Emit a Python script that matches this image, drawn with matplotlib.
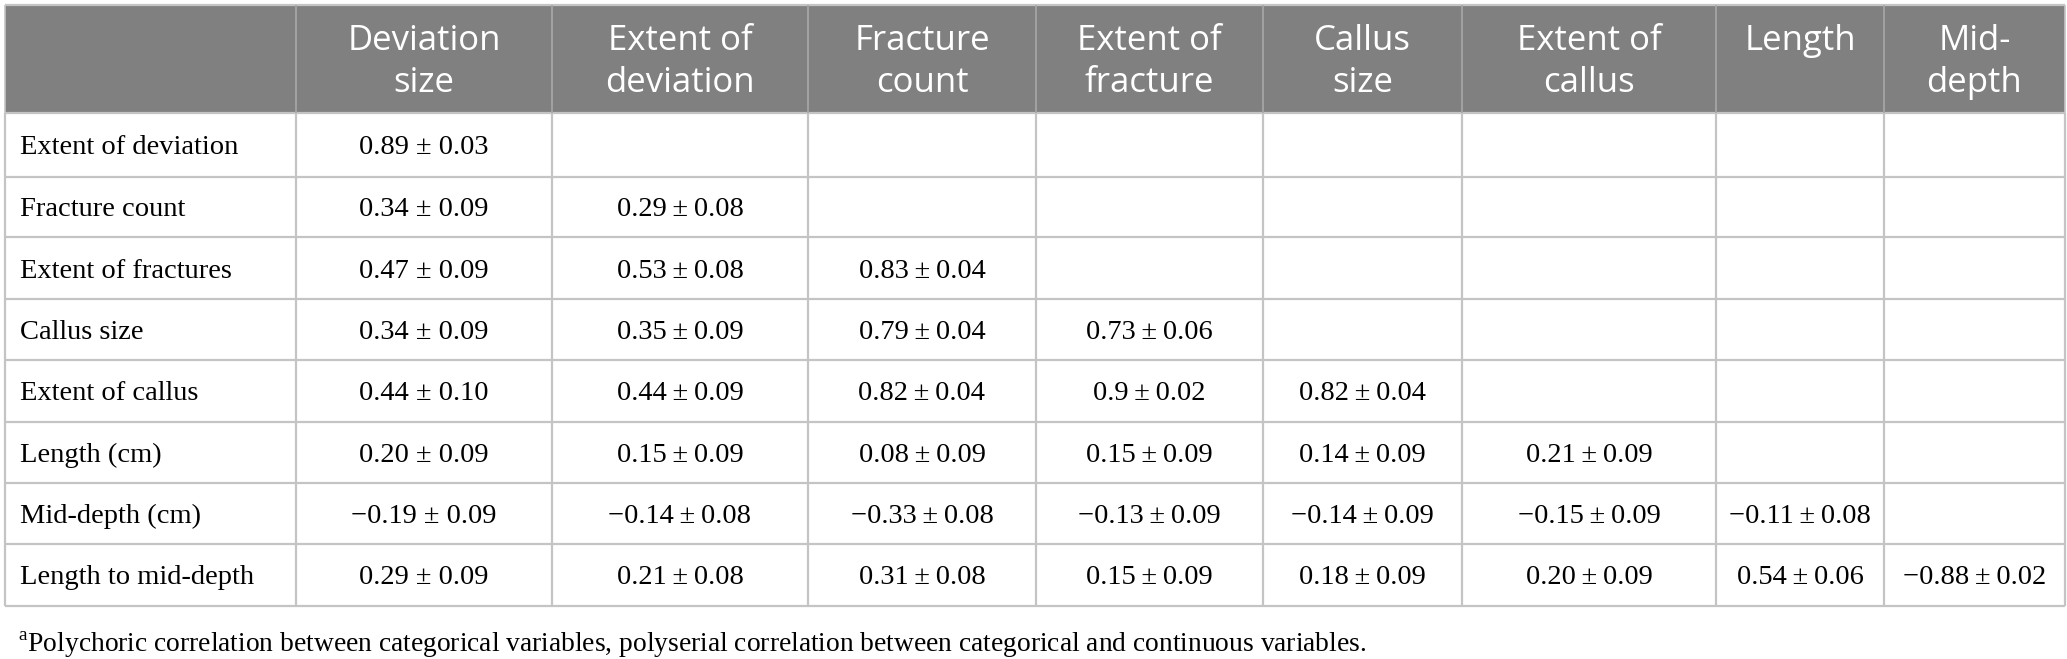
import matplotlib
matplotlib.use("Agg")
import matplotlib.pyplot as plt
from matplotlib.patches import Rectangle

plt.rcParams['mathtext.fontset'] = 'custom'
plt.rcParams['mathtext.rm'] = 'Liberation Serif'

# Données du tableau
col_headers = ["Deviation\nsize", "Extent of\ndeviation", "Fracture\ncount", "Extent of\nfracture",
               "Callus\nsize", "Extent of\ncallus", "Length", "Mid-\ndepth"]
row_labels = ["Extent of deviation", "Fracture count", "Extent of fractures", "Callus size",
              "Extent of callus", "Length (cm)", "Mid-depth (cm)", "Length to mid-depth"]
estimates = [
    ["0.89"],
    ["0.34", "0.29"],
    ["0.47", "0.53", "0.83"],
    ["0.34", "0.35", "0.79", "0.73"],
    ["0.44", "0.44", "0.82", "0.9", "0.82"],
    ["0.20", "0.15", "0.08", "0.15", "0.14", "0.21"],
    ["−0.19", "−0.14", "−0.33", "−0.13", "−0.14", "−0.15", "−0.11"],
    ["0.29", "0.21", "0.31", "0.15", "0.18", "0.20", "0.54", "−0.88"],
]
std_errors = [
    ["0.03"],
    ["0.09", "0.08"],
    ["0.09", "0.08", "0.04"],
    ["0.09", "0.09", "0.04", "0.06"],
    ["0.10", "0.09", "0.04", "0.02", "0.04"],
    ["0.09", "0.09", "0.09", "0.09", "0.09", "0.09"],
    ["0.09", "0.08", "0.08", "0.09", "0.09", "0.09", "0.08"],
    ["0.09", "0.08", "0.08", "0.09", "0.09", "0.09", "0.06", "0.02"],
]
footnote = ("Polychoric correlation between categorical variables, "
            "polyserial correlation between categorical and continuous variables.")

# Mise en page (pixels)
W, H = 2067, 659
col_edges = [5, 296, 552, 808, 1036, 1263, 1462, 1716, 1884, 2065]
row_edges = [5, 113, 177, 237, 299, 360, 422, 483, 544, 606]
header_bg = "#808080"
line_col = "#c4c4c4"

fig = plt.figure(figsize=(W / 100, H / 100), dpi=100)
ax = fig.add_axes([0, 0, 1, 1])
ax.set_xlim(0, W)
ax.set_ylim(H, 0)
ax.axis("off")

# En-tête
ax.add_patch(Rectangle((col_edges[0], row_edges[0]), col_edges[-1] - col_edges[0],
                       row_edges[1] - row_edges[0], facecolor=header_bg, edgecolor="none"))
for j, txt in enumerate(col_headers):
    xc = (col_edges[j + 1] + col_edges[j + 2]) / 2
    ax.text(xc, 24, txt, ha="center", va="top", color="white",
            fontfamily="Open Sans", fontsize=25, linespacing=1.3)

# Lignes de grille
for y in row_edges:
    ax.plot([col_edges[0], col_edges[-1]], [y, y], color=line_col, lw=1.6, solid_capstyle="butt")
for i, x in enumerate(col_edges):
    inner = i not in (0, len(col_edges) - 1)
    ax.plot([x, x], [row_edges[0], row_edges[1]], color="#a8a8a8" if inner else line_col,
            lw=1.2, solid_capstyle="butt", zorder=3)
    ax.plot([x, x], [row_edges[1], row_edges[-1]], color=line_col, lw=1.6,
            solid_capstyle="butt", zorder=4)

# Corps
for i, lab in enumerate(row_labels):
    yc = (row_edges[i + 1] + row_edges[i + 2]) / 2
    ax.text(20, yc, lab, ha="left", va="center_baseline", fontfamily="Liberation Serif", fontsize=20.5)
    for j, (est, se) in enumerate(zip(estimates[i], std_errors[i])):
        xc = (col_edges[j + 1] + col_edges[j + 2]) / 2
        sep = " ± " if j == 0 else "\u2009±\u2009"
        ax.text(xc, yc, est + sep + se, ha="center", va="center_baseline",
                fontfamily="Liberation Serif", fontsize=20.5)

ax.text(18, 641, r"$^{\mathrm{a}}$" + footnote, ha="left", va="center_baseline",
        fontfamily="Liberation Serif", fontsize=19.8)

fig.savefig("out.png", dpi=100)
